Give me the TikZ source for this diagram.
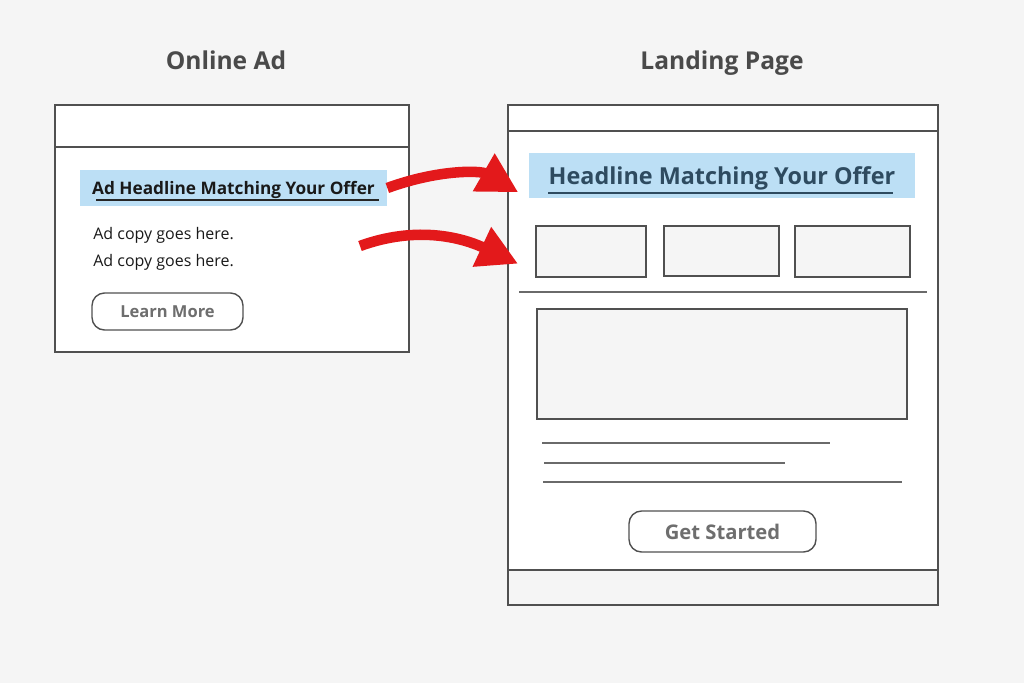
\documentclass[tikz,border=0pt]{standalone}
\usepackage{fontspec}
\setmainfont{Open Sans}
\usetikzlibrary{arrows.meta}
\definecolor{bgGray}{HTML}{F5F5F5}
\definecolor{frameGray}{HTML}{505050}
\definecolor{hlBlue}{HTML}{BCDFF5}
\definecolor{titleGray}{HTML}{4A4A4A}
\definecolor{headBlue}{HTML}{2E4B60}
\definecolor{btnGray}{HTML}{6E6E6E}
\definecolor{arrowRed}{HTML}{E3191B}
\tikzstyle{frameBox} = [draw=frameGray, line width=0.8pt, fill=white]
\tikzstyle{tileBox} = [shape=rectangle, draw=frameGray, line width=0.8pt, fill=bgGray]
\tikzstyle{titleText} = [anchor=base, text=titleGray, font=\fontsize{14}{16}\selectfont\bfseries]
\tikzstyle{hlBox} = [shape=rectangle, fill=hlBlue, inner sep=0pt, text depth=0pt]
\tikzstyle{copyText} = [anchor=west, inner sep=0pt, text=black!90,
	font=\fontsize{9.1}{11}\selectfont]
\tikzstyle{btnBox} = [shape=rectangle, draw=frameGray, line width=0.8pt,
	rounded corners=0.25cm, fill=white, text=btnGray]
\tikzstyle{ruleLine} = [draw=frameGray!85, line width=0.6pt]
\tikzstyle{swoosh} = [draw=arrowRed, line width=6pt,
	-{Triangle[length=0.8cm, width=0.82cm]}]

\begin{document}
\begin{tikzpicture}[x=0.02cm, y=0.02cm]
  \fill[bgGray] (0,0) rectangle (1024,-683);
  \useasboundingbox (0,0) rectangle (1024,-683);

  % titles
  \node (adTitle) [titleText] at (226,-69) {Online Ad};
  \node (lpTitle) [titleText] at (722,-69) {Landing Page};

  % online ad
  \draw[frameBox] (55,-105) rectangle (409,-352);
  \draw[frameBox] (55,-147) -- (409,-147);
  \node (adHead) [hlBox, minimum width=6.14cm, minimum height=0.72cm, text=black!90,
    font=\fontsize{9.8}{12}\selectfont\bfseries] at (233.5,-188) {Ad Headline Matching Your Offer};
  \draw[black!85, line width=0.7pt] (96,-200) -- (379,-200);
  \node (copyA) [copyText] at (93,-235) {Ad copy goes here.};
  \node (copyB) [copyText] at (93,-262) {Ad copy goes here.};
  \node (learnBtn) [btnBox, minimum width=3.02cm, minimum height=0.74cm,
    font=\fontsize{9.4}{11}\selectfont\bfseries] at (167.5,-311.5) {Learn More};

  % landing page
  \draw[frameBox] (508,-105) rectangle (938,-605);
  \draw[frameBox] (508,-131) -- (938,-131);
  \draw[tileBox] (508,-570) rectangle (938,-605);
  \node (lpHead) [hlBox, minimum width=7.72cm, minimum height=0.9cm, text=headBlue,
    font=\fontsize{13.3}{16}\selectfont\bfseries] at (722,-175.5) {Headline Matching Your Offer};
  \draw[headBlue, line width=0.8pt] (548,-193) -- (893,-193);
  \node (tileA) [tileBox, minimum width=2.2cm, minimum height=1.02cm] at (591,-251.5) {};
  \node (tileB) [tileBox, minimum width=2.3cm, minimum height=1.0cm] at (721.5,-251) {};
  \node (tileC) [tileBox, minimum width=2.3cm, minimum height=1.02cm] at (852.5,-251.5) {};
  \draw[ruleLine] (519,-292) -- (927,-292);
  \node (heroBox) [tileBox, minimum width=7.4cm, minimum height=2.2cm] at (722,-364) {};
  \draw[ruleLine, line width=1.1pt] (542,-443) -- (830,-443);
  \draw[ruleLine] (544,-463) -- (785,-463);
  \draw[ruleLine] (543,-482) -- (902,-482);
  \node (startBtn) [btnBox, minimum width=3.74cm, minimum height=0.82cm,
    font=\fontsize{11.5}{13}\selectfont\bfseries] at (722.5,-531.5) {Get Started};

  % arrows
  \coordinate (copyTail) at (360,-246);
  \draw[swoosh, shorten >=0.24cm] (adHead.east) to[out=20, in=150] (lpHead.south west);
  \draw[swoosh, shorten >=0.38cm] (copyTail) to[out=20, in=155] (tileA.200);

\end{tikzpicture}
\end{document}
